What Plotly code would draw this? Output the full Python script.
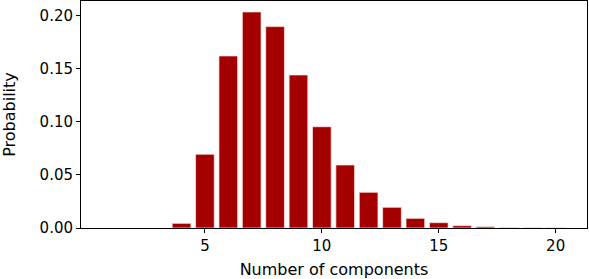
import plotly.graph_objects as go

components = [4, 5, 6, 7, 8, 9, 10, 11, 12, 13, 14, 15, 16, 17, 18, 19, 20]
probability = [0.0044, 0.0694, 0.1619, 0.2033, 0.1895, 0.1440, 0.0953, 0.0593,
               0.0336, 0.0195, 0.0091, 0.0050, 0.0022, 0.0012, 0.0005, 0.0002, 0.0001]
x_ticks = [5, 10, 15, 20]
y_ticks = [0.00, 0.05, 0.10, 0.15, 0.20]

fig = go.Figure()
fig.add_trace(go.Bar(
    x=components, y=probability, width=0.8,
    marker=dict(color="#a40000", line=dict(color="rgba(255,230,230,0.9)", width=0.8)),
))

font = "DejaVu Sans"
fig.update_layout(
    width=589, height=279,
    margin=dict(l=81, r=2, t=1, b=51),
    plot_bgcolor="white", paper_bgcolor="white",
    showlegend=False,
    font=dict(family=font, color="black"),
    xaxis=dict(
        range=[-0.3, 21.34], tickvals=x_ticks, ticks="outside", ticklen=4,
        tickcolor="black", showgrid=False, zeroline=False,
        showline=True, linecolor="black", linewidth=1, mirror=True,
        tickfont=dict(size=15, family=font),
        title=dict(text="Number of components", font=dict(size=16, family=font), standoff=10),
        automargin=False,
    ),
    yaxis=dict(
        range=[0, 0.2136], tickvals=y_ticks, tickformat=".2f", ticks="outside", ticklen=4,
        tickcolor="black", showgrid=False, zeroline=False,
        showline=True, linecolor="black", linewidth=1, mirror=True,
        tickfont=dict(size=15, family=font),
        title=dict(text="Probability", font=dict(size=16, family=font), standoff=20),
        automargin=False,
    ),
)
fig.write_html("out.html", config={"displayModeBar": False},
               post_script="document.body.style.margin='0';")
